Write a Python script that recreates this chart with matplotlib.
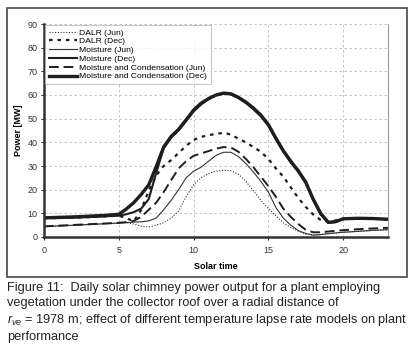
import matplotlib
matplotlib.use("Agg")
import matplotlib.pyplot as plt
from matplotlib.patches import Rectangle

plt.rcParams['font.family'] = ['Liberation Sans', 'DejaVu Sans']
plt.rcParams['mathtext.fontset'] = 'custom'
plt.rcParams['mathtext.rm'] = 'Liberation Sans'
plt.rcParams['mathtext.it'] = 'Liberation Sans:italic'

hours = [0, 1, 2, 3, 4, 5, 5.5, 6, 6.5, 7, 7.5, 8, 8.5, 9, 9.5, 10, 10.5, 11, 11.5,
         12, 12.5, 13, 13.5, 14, 14.5, 15, 15.5, 16, 16.5, 17, 17.5, 18, 18.5,
         19, 19.5, 20, 21, 22, 23]

dalr_jun = [4.3, 4.6, 4.9, 5.2, 5.5, 5.8, 6.0, 5.5, 4.6, 4.2, 5.0, 6.0, 8.0, 11.0, 17.0,
            22.0, 25.0, 26.8, 27.8, 28.2, 28.0, 26.5, 23.5, 19.5, 15.5, 12.0, 9.0, 6.0,
            4.0, 2.5, 1.2, 0.8, 1.0, 1.4, 1.7, 2.0, 2.4, 2.8, 3.1]
dalr_dec = [8.0, 8.0, 8.2, 8.4, 8.7, 9.0, 8.0, 6.6, 11.5, 19.5, 26.0, 30.0, 32.5, 35.5,
            38.5, 41.0, 42.3, 43.0, 43.6, 44.0, 43.3, 41.5, 40.0, 38.0, 36.0, 33.0,
            29.0, 25.5, 21.0, 16.5, 12.7, 9.5, 7.2, 6.5, 7.0, 7.6, 7.8, 7.7, 7.4]
moist_jun = [4.4, 4.7, 5.0, 5.3, 5.6, 5.9, 6.1, 6.3, 6.4, 6.8, 8.0, 11.5, 15.5, 20.0,
             25.0, 27.8, 29.5, 32.0, 34.5, 35.8, 35.8, 34.0, 31.0, 27.5, 23.5, 19.0,
             12.5, 8.0, 5.0, 2.7, 1.5, 0.8, 1.0, 1.4, 1.7, 2.0, 2.4, 2.8, 3.1]
moist_dec = [8.0, 8.0, 8.2, 8.4, 8.7, 9.0, 9.6, 10.5, 12.0, 16.0, 27.0, 37.5, 42.0,
             45.0, 49.0, 53.0, 56.0, 58.2, 59.8, 60.5, 60.3, 58.7, 56.6, 54.0, 51.0,
             47.0, 41.3, 36.0, 31.5, 27.5, 22.7, 15.5, 9.5, 6.0, 6.3, 7.6, 7.8, 7.7, 7.4]
mc_jun = [4.5, 4.8, 5.1, 5.4, 5.7, 6.0, 6.3, 6.8, 8.5, 11.5, 14.5, 19.0, 24.0, 29.0,
          32.0, 34.3, 35.3, 36.3, 37.3, 38.0, 37.8, 36.0, 33.0, 29.5, 25.5, 21.5,
          17.0, 12.0, 8.5, 5.5, 3.0, 2.0, 2.0, 2.3, 2.6, 2.9, 3.3, 3.6, 3.9]
mc_dec = [8.1, 8.3, 8.5, 8.8, 9.1, 9.6, 11.8, 14.5, 18.0, 22.0, 29.7, 38.0, 42.5,
          45.5, 49.5, 53.6, 56.5, 58.5, 60.0, 60.8, 60.5, 59.0, 57.0, 54.5, 51.5,
          47.5, 41.8, 36.5, 32.0, 28.0, 23.2, 16.0, 10.0, 6.2, 6.5, 7.7, 7.9, 7.8, 7.5]

labels = ["DALR (Jun)", "DALR (Dec)", "Moisture (Jun)", "Moisture (Dec)",
          "Moisture and Condensation (Jun)", "Moisture and Condensation (Dec)"]

fig = plt.figure(figsize=(4.16, 3.56), dpi=100)
fig.patch.set_facecolor('white')
fig.patches.append(Rectangle((7 / 416, 1 - 277 / 356), 400 / 416, 269 / 356,
                             transform=fig.transFigure, fill=False,
                             edgecolor='#555555', linewidth=1.3))

ax = fig.add_axes([44 / 416, 1 - 237 / 356, 344 / 416, 213 / 356])
c = '#1e1e1e'
ax.plot(hours, dalr_jun, color='#333333', lw=0.8, ls=(0, (1, 1.5)), label=labels[0])
ax.plot(hours, dalr_dec, color=c, lw=1.6, ls=(0, (1.6, 2.2)), label=labels[1])
ax.plot(hours, moist_jun, color='#333333', lw=0.8, ls='-', label=labels[2])
ax.plot(hours, moist_dec, color=c, lw=1.5, ls='-', label=labels[3])
ax.plot(hours, mc_jun, color=c, lw=1.4, ls=(0, (5, 2.5)), label=labels[4])
ax.plot(hours, mc_dec, color=c, lw=2.4, ls='-', label=labels[5])

ax.set_xlim(0, 23)
ax.set_ylim(0, 90)
ax.set_xticks([0, 5, 10, 15, 20])
ax.set_yticks(range(0, 91, 10))
ax.tick_params(labelsize=6.5, length=2.5, width=0.8, colors='#333333', pad=2)
ax.tick_params(axis='x', pad=4)
ax.grid(True, ls=(0, (3, 3)), color='#bbbbbb', lw=0.6)
for s in ['left', 'bottom']:
    ax.spines[s].set_linewidth(1.8)
    ax.spines[s].set_color('#333333')
ax.spines['top'].set_visible(False)
ax.spines['right'].set_color('#999999')
ax.spines['right'].set_linewidth(0.8)

ax.set_xlabel('Solar time', fontsize=6.5, fontweight='bold', labelpad=5)
ax.set_ylabel('Power [MW]', fontsize=6.5, fontweight='bold', labelpad=3)

leg = ax.legend(loc='upper left', fontsize=6.1, frameon=True, fancybox=False,
                borderaxespad=0.1, labelspacing=0.1, handlelength=3.4,
                handletextpad=0.2, borderpad=0.45)
leg.get_frame().set_edgecolor('#aaaaaa')
leg.get_frame().set_linewidth(0.6)

cap = ("Figure 11:  Daily solar chimney power output for a plant employing\n"
       "vegetation under the collector roof over a radial distance of\n"
       "$\\mathit{r}_{\\mathit{ve}}$ = 1978 m; effect of different temperature lapse rate models on plant\n"
       "performance")
fig.text(7 / 416, 1 - 282 / 356, cap, ha='left', va='top', fontsize=9.2,
         color='#222222', linespacing=1.32)

fig.savefig('out.png', dpi=100, facecolor='white')
